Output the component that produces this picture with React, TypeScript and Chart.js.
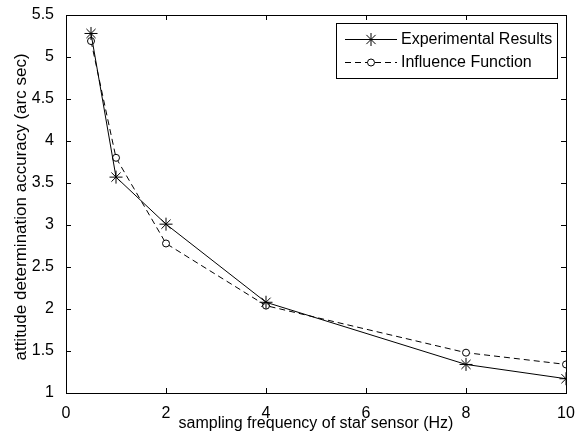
import React, { useEffect, useRef } from "react";
import { Chart, registerables } from "chart.js";

Chart.register(...registerables);

const freq = [0.5, 1, 2, 4, 8, 10];
const experimental = [5.28, 3.57, 3.01, 2.08, 1.34, 1.17];
const influence = [5.19, 3.8, 2.78, 2.04, 1.48, 1.34];
const seriesNames = ["Experimental Results", "Influence Function"];
const xTitle = "sampling frequency of star sensor (Hz)";
const yTitle = "attitude determination accuracy (arc sec)";
const xTicks = [0, 2, 4, 6, 8, 10];
const yTicks = [1, 1.5, 2, 2.5, 3, 3.5, 4, 4.5, 5, 5.5];

const FONT = "'Liberation Sans', Arial, sans-serif";
const DASH = [6, 4];

function drawStar(ctx: CanvasRenderingContext2D, x: number, y: number, r: number) {
  const d = r * Math.SQRT1_2;
  ctx.beginPath();
  ctx.moveTo(x - r, y);
  ctx.lineTo(x + r, y);
  ctx.moveTo(x, y - r);
  ctx.lineTo(x, y + r);
  ctx.moveTo(x - d, y - d);
  ctx.lineTo(x + d, y + d);
  ctx.moveTo(x - d, y + d);
  ctx.lineTo(x + d, y - d);
  ctx.stroke();
}

function drawCircle(ctx: CanvasRenderingContext2D, x: number, y: number, r: number) {
  ctx.beginPath();
  ctx.arc(x, y, r, 0, Math.PI * 2);
  ctx.fillStyle = "#fff";
  ctx.fill();
  ctx.stroke();
}

const boxPlugin = {
  id: "matlabBox",
  afterDatasetsDraw(chart: any) {
    const { ctx, chartArea: a, scales } = chart;
    const xs = scales.x;
    const ys = scales.y;
    ctx.save();
    ctx.strokeStyle = "#000";
    ctx.lineWidth = 1;
    ctx.strokeRect(Math.round(a.left) + 0.5, Math.round(a.top) + 0.5, Math.round(a.right - a.left), Math.round(a.bottom - a.top));
    const tl = 5;
    ctx.beginPath();
    xTicks.forEach((v) => {
      const px = Math.round(xs.getPixelForValue(v)) + 0.5;
      ctx.moveTo(px, a.bottom);
      ctx.lineTo(px, a.bottom - tl);
      ctx.moveTo(px, a.top);
      ctx.lineTo(px, a.top + tl);
    });
    yTicks.forEach((v) => {
      const py = Math.round(ys.getPixelForValue(v)) + 0.5;
      ctx.moveTo(a.left, py);
      ctx.lineTo(a.left + tl, py);
      ctx.moveTo(a.right, py);
      ctx.lineTo(a.right - tl, py);
    });
    ctx.stroke();

    // axis titles
    ctx.fillStyle = "#000";
    ctx.textAlign = "center";
    ctx.textBaseline = "middle";
    ctx.font = `16px ${FONT}`;
    ctx.fillText(xTitle, (a.left + a.right) / 2, 424);
    ctx.save();
    ctx.translate(21, 207);
    ctx.rotate(-Math.PI / 2);
    ctx.font = `17px ${FONT}`;
    ctx.fillText(yTitle, 0, 0);
    ctx.restore();

    // legend
    const lx = 336.5, ly = 23.5, lw = 221, lh = 55;
    ctx.fillStyle = "#fff";
    ctx.fillRect(lx, ly, lw, lh);
    ctx.strokeRect(lx, ly, lw, lh);
    const rows = [
      { y: 39.5, dash: [] as number[], star: true, name: seriesNames[0] },
      { y: 62.5, dash: DASH, star: false, name: seriesNames[1] },
    ];
    rows.forEach((row) => {
      ctx.save();
      ctx.setLineDash(row.dash);
      ctx.beginPath();
      ctx.moveTo(345, row.y);
      ctx.lineTo(397, row.y);
      ctx.stroke();
      ctx.restore();
      ctx.save();
      ctx.setLineDash([]);
      if (row.star) drawStar(ctx, 371, row.y, 6.5);
      else drawCircle(ctx, 371, row.y, 3.5);
      ctx.restore();
      ctx.fillStyle = "#000";
      ctx.font = `16px ${FONT}`;
      ctx.textBaseline = "middle";
      ctx.textAlign = "left";
      ctx.fillText(row.name, 401, row.y);
    });
    ctx.restore();
  },
};

export default function App() {
  const ref = useRef<HTMLCanvasElement>(null);
  useEffect(() => {
    if (!ref.current) return;
    const chart = new Chart(ref.current, {
      type: "line",
      data: {
        datasets: [
          {
            label: seriesNames[0],
            data: freq.map((x, i) => ({ x, y: experimental[i] })),
            borderColor: "#000",
            backgroundColor: "#000",
            borderWidth: 1,
            pointStyle: "star",
            pointRadius: 6.5,
            pointBorderWidth: 1,
            pointBorderColor: "#000",
            tension: 0,
          },
          {
            label: seriesNames[1],
            data: freq.map((x, i) => ({ x, y: influence[i] })),
            borderColor: "#000",
            backgroundColor: "#fff",
            borderWidth: 1,
            borderDash: DASH,
            pointStyle: "circle",
            pointRadius: 3.5,
            pointBorderWidth: 1,
            pointBackgroundColor: "#fff",
            pointBorderColor: "#000",
            tension: 0,
          },
        ],
      },
      options: {
        responsive: false,
        animation: false,
        events: [],
        layout: { padding: { left: 0, top: 15, right: 12, bottom: 0 } },
        plugins: { legend: { display: false }, tooltip: { enabled: false } },
        scales: {
          x: {
            type: "linear",
            min: 0,
            max: 10,
            afterBuildTicks: (s: any) => {
              s.ticks = xTicks.map((v) => ({ value: v }));
            },
            afterFit: (s: any) => {
              s.height = 48;
            },
            grid: { display: false },
            border: { display: false },
            ticks: {
              color: "#000",
              font: { family: FONT, size: 16 },
              padding: 3,
              maxRotation: 0,
              callback: (v: any) => String(v),
            },
          },
          y: {
            type: "linear",
            min: 1,
            max: 5.5,
            afterBuildTicks: (s: any) => {
              s.ticks = yTicks.map((v) => ({ value: v }));
            },
            afterFit: (s: any) => {
              s.width = 66;
            },
            grid: { display: false },
            border: { display: false },
            ticks: {
              color: "#000",
              font: { family: FONT, size: 16 },
              padding: 4,
              callback: (v: any) => String(v),
            },
          },
        },
      },
      plugins: [boxPlugin],
    } as any);
    return () => chart.destroy();
  }, []);
  return (
    <div style={{ position: "absolute", left: 0, top: 0, width: 578, height: 441, background: "#fff" }}>
      <canvas ref={ref} width={578} height={441} />
    </div>
  );
}
